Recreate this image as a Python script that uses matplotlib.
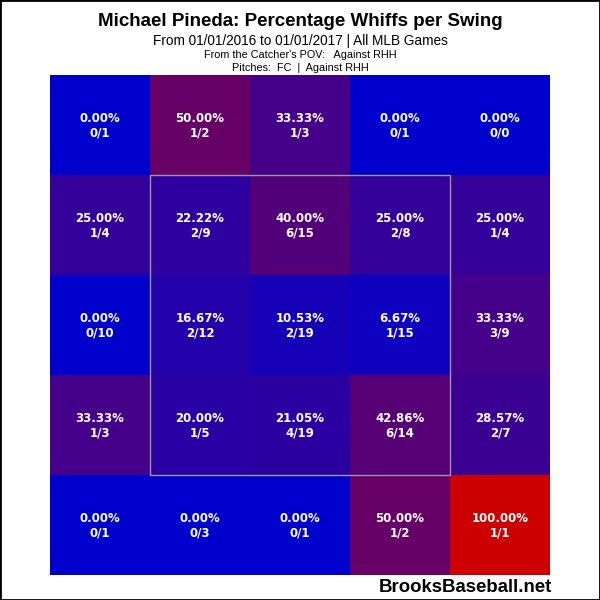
import matplotlib
matplotlib.use("Agg")
import matplotlib.pyplot as plt
from matplotlib.patches import Rectangle

plt.rcParams['font.family'] = ['Liberation Sans', 'DejaVu Sans']

# whiffs / swings per zone, top row first (catcher's view)
whiffs = [
    [0, 1, 1, 0, 0],
    [1, 2, 6, 2, 1],
    [0, 2, 2, 1, 3],
    [1, 1, 4, 6, 2],
    [0, 0, 0, 1, 1],
]
swings = [
    [1, 2, 3, 1, 0],
    [4, 9, 15, 8, 4],
    [10, 12, 19, 15, 9],
    [3, 5, 19, 14, 7],
    [1, 3, 1, 2, 1],
]

title = "Michael Pineda: Percentage Whiffs per Swing"
subtitle = "From 01/01/2016 to 01/01/2017 | All MLB Games"
line3 = "From the Catcher's POV:   Against RHH"
line4 = "Pitches:  FC  |  Against RHH"

fig = plt.figure(figsize=(6, 6), dpi=100)
ax = fig.add_axes([50 / 600, 25 / 600, 500 / 600, 500 / 600])
ax.set_xlim(0, 5)
ax.set_ylim(5, 0)
ax.axis('off')

for r in range(5):
    for c in range(5):
        w, s = whiffs[r][c], swings[r][c]
        p = w / s if s else 0.0
        color = (0.8 * p, 0.0, 0.8 * (1 - p))
        ax.add_patch(Rectangle((c, r), 1, 1, facecolor=color, edgecolor='none'))
        ax.text(c + 0.5, r + 0.43, f"{p * 100:.2f}%", color='white', fontsize=8.5,
                fontweight='bold', ha='center', va='center', family='DejaVu Sans')
        ax.text(c + 0.5, r + 0.575, f"{w}/{s}", color='white', fontsize=8.5,
                fontweight='bold', ha='center', va='center', family='DejaVu Sans')

# strike zone
ax.add_patch(Rectangle((1, 1), 3, 3, facecolor='none', edgecolor='#999999', linewidth=1))

fig.text(0.5, 1 - 22 / 600, title, ha='center', va='center', fontsize=13.5, fontweight='bold')
fig.text(0.5, 1 - 41 / 600, subtitle, ha='center', va='center', fontsize=9.8)
fig.text(0.5, 1 - 55 / 600, line3, ha='center', va='center', fontsize=7.8)
fig.text(0.5, 1 - 68 / 600, line4, ha='center', va='center', fontsize=7.8)
fig.text(465 / 600, 1 - 588 / 600, "BrooksBaseball.net", ha='center', va='center',
         fontsize=13.4, fontweight='bold')

# outer frame
fig.patches.append(Rectangle((0, 0), 1, 1, transform=fig.transFigure, fill=False,
                             edgecolor='black', linewidth=2))

fig.savefig("out.png", dpi=100)
